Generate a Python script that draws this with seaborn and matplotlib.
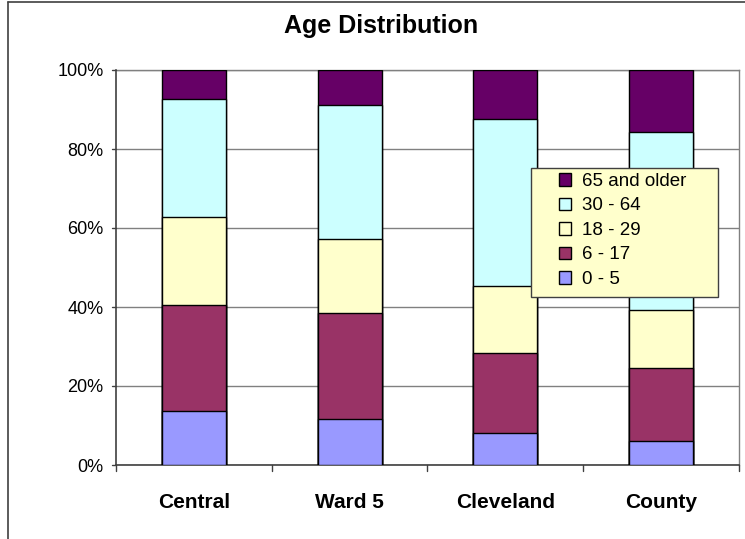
import matplotlib
matplotlib.use("Agg")
import matplotlib.pyplot as plt
import seaborn as sns
import pandas as pd
import numpy as np
from matplotlib.patches import Patch, Rectangle
from matplotlib.lines import Line2D
from matplotlib.ticker import PercentFormatter

categories = ["Central", "Ward 5", "Cleveland", "County"]
age_groups = ["0 - 5", "6 - 17", "18 - 29", "30 - 64", "65 and older"]
share_0_5 = [13.7, 11.6, 8.1, 6.1]
share_6_17 = [26.8, 26.9, 20.3, 18.5]
share_18_29 = [22.3, 18.7, 16.9, 14.6]
share_30_64 = [29.9, 33.9, 42.3, 45.1]
share_65_up = [7.3, 8.9, 12.4, 15.7]
colors = ["#9999FF", "#993366", "#FFFFCC", "#CCFFFF", "#660066"]
y_ticks = [0, 20, 40, 60, 80, 100]

series = [share_0_5, share_6_17, share_18_29, share_30_64, share_65_up]
df = pd.DataFrame({g: s for g, s in zip(age_groups, series)}, index=categories)
df = df.div(df.sum(axis=1), axis=0) * 100
cum = df.cumsum(axis=1)

sns.set_theme(style="white")
plt.rcParams["font.family"] = ["Liberation Sans", "DejaVu Sans"]

W, H = 745, 539
fig = plt.figure(figsize=(W / 100, H / 100), dpi=100)
ax = fig.add_axes([116 / W, 1 - 465 / H, (739 - 116) / W, (465 - 70) / H])

# draw from top layer down so lower layers overlay
for g, c in reversed(list(zip(age_groups, colors))):
    d = pd.DataFrame({"cat": categories, "val": cum[g].values})
    sns.barplot(data=d, x="cat", y="val", color=c, saturation=1, width=0.41,
                edgecolor="black", linewidth=1.0, ax=ax, zorder=3)

ax.set_ylim(0, 100)
ax.set_xlim(-0.5, 3.5)
ax.set_yticks(y_ticks)
ax.yaxis.set_major_formatter(PercentFormatter(decimals=0))
ax.grid(axis="y", color="#808080", linewidth=1.0, zorder=0)
ax.set_axisbelow(True)
ax.set_xlabel("")
ax.set_ylabel("")
ax.set_xticks(range(len(categories)))
ax.set_xticklabels(categories, fontsize=15, fontweight="bold")
ax.tick_params(axis="x", length=0, pad=20, colors="black")
ax.tick_params(axis="y", length=0, labelsize=13, pad=9, colors="black")
# category boundary ticks
for xb in np.arange(-0.5, 4.0, 1.0):
    ax.plot([xb, xb], [0, -1.5], color="#404040", lw=1, clip_on=False, zorder=4)
for yt in y_ticks:
    ax.plot([-0.5 - 0.028, -0.5], [yt, yt], color="#404040", lw=1, clip_on=False, zorder=4)
for s in ["left", "bottom"]:
    ax.spines[s].set_color("#404040")
    ax.spines[s].set_linewidth(1.2)
for s in ["top", "right"]:
    ax.spines[s].set_color("#808080")
    ax.spines[s].set_linewidth(1.0)

fig.text(381 / W, 1 - 26 / H, "Age Distribution", ha="center", va="center",
         fontsize=18, fontweight="bold", color="black")

# legend box
fig.add_artist(Rectangle((531 / W, 1 - 297 / H), (718 - 531) / W, (297 - 168) / H,
                         transform=fig.transFigure, facecolor="#FFFFCC",
                         edgecolor="#404040", linewidth=1.0, zorder=5))
handles = [Patch(facecolor=c, edgecolor="black", label=g)
           for g, c in reversed(list(zip(age_groups, colors)))]
leg = fig.legend(handles=handles, loc="upper left",
                 bbox_to_anchor=(559 / W, 1 - 173 / H), frameon=False,
                 fontsize=13.5, handlelength=0.65, handleheight=0.65,
                 handletextpad=0.6, labelspacing=0.4, borderpad=0,
                 borderaxespad=0)
leg.set_zorder(6)
for t in leg.get_texts():
    t.set_color("black")

# outer chart-area frame (left and top visible)
fig.add_artist(Line2D([8 / W, 8 / W], [0, 1 - 2 / H], color="#404040", lw=1.2))
fig.add_artist(Line2D([8 / W, 1], [1 - 2 / H, 1 - 2 / H], color="#404040", lw=1.2))

fig.savefig("out.png", dpi=100)
